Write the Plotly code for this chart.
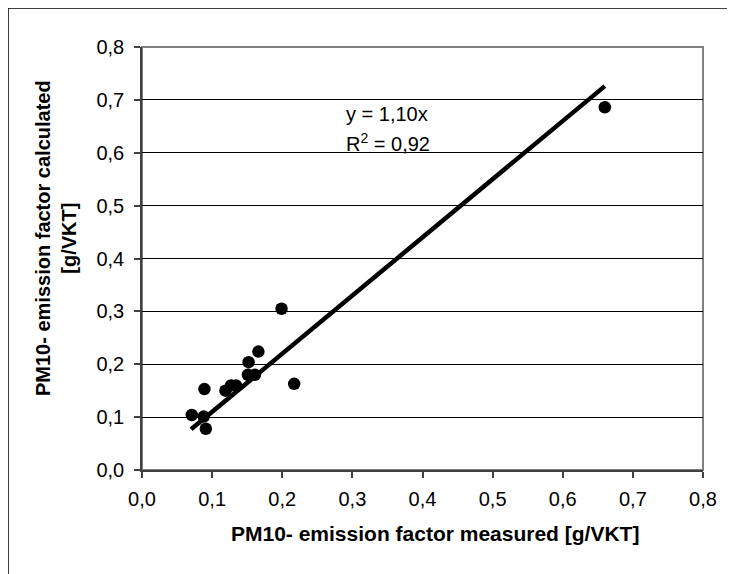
import plotly.graph_objects as go

# Data
measured = [0.199, 0.166, 0.152, 0.151, 0.161, 0.217, 0.089, 0.119, 0.127, 0.134, 0.071, 0.088, 0.091, 0.660]
calculated = [0.305, 0.224, 0.204, 0.180, 0.180, 0.163, 0.153, 0.150, 0.160, 0.160, 0.104, 0.101, 0.078, 0.686]

trend_slope = 1.10
trend_x = [0.07, 0.66]
trend_y = [trend_slope * v for v in trend_x]

tick_vals = [0.0, 0.1, 0.2, 0.3, 0.4, 0.5, 0.6, 0.7, 0.8]
tick_text = ["0,0", "0,1", "0,2", "0,3", "0,4", "0,5", "0,6", "0,7", "0,8"]

# page has an 8px body margin; work in page coordinates
OFF = 8
W, H = 735 - OFF, 574 - OFF
L, R, T, B = 142 - OFF, 32, 47 - OFF, 104
pw, ph = W - L - R, H - T - B

def px(x):  # page x -> paper
    return (x - OFF - L) / pw

def py(y):  # page y -> paper
    return (H - B - (y - OFF)) / ph

FONT = "Liberation Sans, Arial, sans-serif"

fig = go.Figure()
fig.add_trace(go.Scatter(x=trend_x, y=trend_y, mode="lines",
                         line=dict(color="black", width=4.5), hoverinfo="skip"))
fig.add_trace(go.Scatter(x=measured, y=calculated, mode="markers",
                         marker=dict(color="black", size=12.5, line=dict(width=0))))

axis_common = dict(
    range=[0, 0.8], tickvals=tick_vals, ticktext=tick_text,
    showline=True, linecolor="#404040", linewidth=1.5,
    ticks="outside", ticklen=6, tickcolor="#404040", tickwidth=1.5,
    tickfont=dict(family=FONT, size=20, color="black"),
    zeroline=False,
)

fig.update_xaxes(**axis_common, showgrid=False, ticklabelstandoff=4)
fig.update_yaxes(**axis_common, showgrid=True, gridcolor="black", gridwidth=1,
                 ticklabelstandoff=6)

fig.update_layout(
    width=W, height=H,
    margin=dict(l=L, r=R, t=T, b=B),
    paper_bgcolor="white", plot_bgcolor="white",
    showlegend=False,
    font=dict(family=FONT, color="black"),
    shapes=[
        # gray plot-area border
        dict(type="rect", xref="paper", yref="paper", x0=0, y0=0, x1=1, y1=1,
             line=dict(color="#808080", width=2), layer="below"),
        # outer chart border (top and left visible)
        dict(type="line", xref="paper", yref="paper",
             x0=px(8), y0=py(8), x1=px(740), y1=py(8),
             line=dict(color="black", width=1.5)),
        dict(type="line", xref="paper", yref="paper",
             x0=px(8), y0=py(8), x1=px(8), y1=py(580),
             line=dict(color="black", width=1.5)),
    ],
    annotations=[
        dict(text="<b>PM10- emission factor measured [g/VKT]</b>",
             xref="paper", yref="paper", x=px(435), y=py(533),
             showarrow=False, xanchor="center", yanchor="middle",
             font=dict(family=FONT, size=21, color="black")),
        dict(text="<b>PM10- emission factor calculated<br>[g/VKT]</b>",
             xref="paper", yref="paper", x=px(56), y=py(238),
             showarrow=False, xanchor="center", yanchor="middle",
             textangle=-90,
             font=dict(family=FONT, size=20, color="black")),
        dict(text="y = 1,10x",
             xref="paper", yref="paper", x=px(344), y=py(114),
             showarrow=False, xanchor="left", yanchor="middle",
             font=dict(family=FONT, size=20, color="black")),
        dict(text="R<sup>2</sup> = 0,92",
             xref="paper", yref="paper", x=px(344), y=py(142),
             showarrow=False, xanchor="left", yanchor="middle",
             font=dict(family=FONT, size=20, color="black")),
    ],
)

fig.write_html("out.html")
